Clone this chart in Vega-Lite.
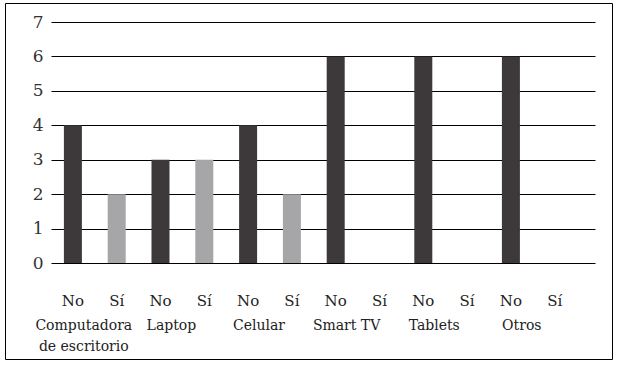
{
  "$schema": "https://vega.github.io/schema/vega-lite/v6.json",
  "width": 607,
  "height": 356,
  "padding": {"left": 5, "top": 3, "right": 5, "bottom": 5},
  "view": {"stroke": "#000", "strokeWidth": 1},
  "config": {"font": "DejaVu Serif"},
  "data": {
    "values": [
      {"categoria": "Computadora de escritorio", "respuesta": "No", "valor": 4},
      {"categoria": "Computadora de escritorio", "respuesta": "Sí", "valor": 2},
      {"categoria": "Laptop", "respuesta": "No", "valor": 3},
      {"categoria": "Laptop", "respuesta": "Sí", "valor": 3},
      {"categoria": "Celular", "respuesta": "No", "valor": 4},
      {"categoria": "Celular", "respuesta": "Sí", "valor": 2},
      {"categoria": "Smart TV", "respuesta": "No", "valor": 6},
      {"categoria": "Smart TV", "respuesta": "Sí", "valor": 0},
      {"categoria": "Tablets", "respuesta": "No", "valor": 6},
      {"categoria": "Tablets", "respuesta": "Sí", "valor": 0},
      {"categoria": "Otros", "respuesta": "No", "valor": 6},
      {"categoria": "Otros", "respuesta": "Sí", "valor": 0}
    ]
  },
  "encoding": {
    "x": {
      "field": "categoria",
      "type": "nominal",
      "sort": ["Computadora de escritorio", "Laptop", "Celular", "Smart TV", "Tablets", "Otros"],
      "scale": {"range": [46, 590], "paddingInner": 0, "paddingOuter": 0.105, "align": 0},
      "axis": {
        "title": null,
        "orient": "bottom",
        "offset": -96,
        "domain": false,
        "ticks": false,
        "grid": false,
        "labelAngle": 0,
        "labelAlign": "center",
        "labelBaseline": "top",
        "labelPadding": 55,
        "labelOffset": -11,
        "labelFont": "DejaVu Serif",
        "labelFontSize": 14,
        "labelColor": "#222",
        "labelLineHeight": 21,
        "labelOverlap": false,
        "labelExpr": "datum.value == 'Computadora de escritorio' ? ['Computadora', 'de escritorio'] : datum.value"
      }
    },
    "xOffset": {
      "field": "respuesta",
      "type": "nominal",
      "sort": ["No", "Sí"],
      "scale": {"paddingInner": 0.589, "paddingOuter": 0.2945}
    }
  },
  "layer": [
    {
      "mark": {"type": "bar"},
      "encoding": {
        "y": {
          "field": "valor",
          "type": "quantitative",
          "scale": {"domain": [0, 7], "range": [260, 19], "nice": false},
          "axis": {
            "title": null,
            "orient": "left",
            "offset": -47,
            "values": [0, 1, 2, 3, 4, 5, 6, 7],
            "domain": false,
            "ticks": false,
            "grid": true,
            "gridColor": "#000",
            "gridOpacity": 1,
            "gridWidth": 1,
            "labelPadding": 9,
            "labelFont": "DejaVu Serif",
            "labelFontSize": 17,
            "labelColor": "#333"
          }
        },
        "color": {
          "field": "respuesta",
          "type": "nominal",
          "scale": {"domain": ["No", "Sí"], "range": ["#3d393a", "#a6a5a7"]},
          "legend": null
        }
      }
    },
    {
      "mark": {"type": "text", "font": "DejaVu Serif", "fontSize": 15, "color": "#222", "baseline": "middle", "dy": 4},
      "encoding": {
        "y": {"datum": -1, "type": "quantitative"},
        "text": {"field": "respuesta", "type": "nominal"}
      }
    }
  ]
}
